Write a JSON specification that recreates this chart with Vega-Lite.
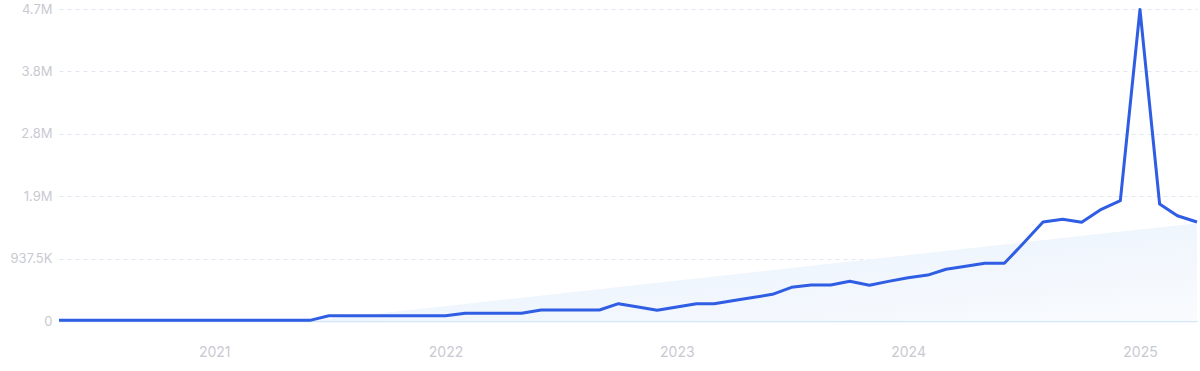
{
  "$schema": "https://vega.github.io/schema/vega-lite/v6.json",
  "width": 1138,
  "height": 312,
  "autosize": "none",
  "padding": {"left": 59, "top": 9, "right": 3, "bottom": 50},
  "background": "white",
  "config": {
    "view": {"stroke": null},
    "axis": {"labelFont": "Inter", "labelFontSize": 13, "labelColor": "#c9c9d1", "titleFont": "Inter"}
  },
  "datasets": {
    "series": [
      {"date": "2020-05-01", "value": 10000},
      {"date": "2020-06-01", "value": 10000},
      {"date": "2020-07-01", "value": 10000},
      {"date": "2020-08-01", "value": 10000},
      {"date": "2020-09-01", "value": 10000},
      {"date": "2020-10-01", "value": 10000},
      {"date": "2020-11-01", "value": 10000},
      {"date": "2020-12-01", "value": 10000},
      {"date": "2021-01-01", "value": 10000},
      {"date": "2021-02-01", "value": 10000},
      {"date": "2021-03-01", "value": 10000},
      {"date": "2021-04-01", "value": 10000},
      {"date": "2021-05-01", "value": 10000},
      {"date": "2021-06-01", "value": 10000},
      {"date": "2021-07-01", "value": 80000},
      {"date": "2021-08-01", "value": 80000},
      {"date": "2021-09-01", "value": 80000},
      {"date": "2021-10-01", "value": 80000},
      {"date": "2021-11-01", "value": 80000},
      {"date": "2021-12-01", "value": 80000},
      {"date": "2022-01-01", "value": 80000},
      {"date": "2022-02-01", "value": 118000},
      {"date": "2022-03-01", "value": 118000},
      {"date": "2022-04-01", "value": 118000},
      {"date": "2022-05-01", "value": 117000},
      {"date": "2022-06-01", "value": 165000},
      {"date": "2022-07-01", "value": 165000},
      {"date": "2022-08-01", "value": 165000},
      {"date": "2022-09-01", "value": 165000},
      {"date": "2022-10-01", "value": 260000},
      {"date": "2022-11-01", "value": 210000},
      {"date": "2022-12-01", "value": 160000},
      {"date": "2023-01-01", "value": 210000},
      {"date": "2023-02-01", "value": 260000},
      {"date": "2023-03-01", "value": 260000},
      {"date": "2023-04-01", "value": 308000},
      {"date": "2023-05-01", "value": 353000},
      {"date": "2023-06-01", "value": 401000},
      {"date": "2023-07-01", "value": 506000},
      {"date": "2023-08-01", "value": 541000},
      {"date": "2023-09-01", "value": 541000},
      {"date": "2023-10-01", "value": 596000},
      {"date": "2023-11-01", "value": 536000},
      {"date": "2023-12-01", "value": 595000},
      {"date": "2024-01-01", "value": 650000},
      {"date": "2024-02-01", "value": 690000},
      {"date": "2024-03-01", "value": 777000},
      {"date": "2024-04-01", "value": 822000},
      {"date": "2024-05-01", "value": 867000},
      {"date": "2024-06-01", "value": 867000},
      {"date": "2024-07-01", "value": 1167000},
      {"date": "2024-08-01", "value": 1487000},
      {"date": "2024-09-01", "value": 1528000},
      {"date": "2024-10-01", "value": 1483000},
      {"date": "2024-11-01", "value": 1678000},
      {"date": "2024-12-01", "value": 1807000},
      {"date": "2025-01-01", "value": 4680000},
      {"date": "2025-02-01", "value": 1758000},
      {"date": "2025-03-01", "value": 1582000},
      {"date": "2025-04-01", "value": 1487000}
    ],
    "trend": [
      {"date": "2021-06-01", "trend": 0},
      {"date": "2025-04-01", "trend": 1470000}
    ]
  },
  "layer": [
    {
      "data": {"name": "trend"},
      "mark": {
        "type": "area",
        "color": {
          "gradient": "linear",
          "x1": 0, "y1": 0, "x2": 1, "y2": 1,
          "stops": [
            {"offset": 0, "color": "#e6f0fc"},
            {"offset": 1, "color": "#f9fbfe"}
          ]
        }
      },
      "encoding": {
        "x": {
          "field": "date", "type": "temporal",
          "scale": {"type": "utc", "domain": [{"year": 2020, "month": 5, "date": 1, "utc": true}, {"year": 2025, "month": 4, "date": 1, "utc": true}]},
          "axis": {
            "title": null, "format": "%Y", "tickCount": {"interval": "year"},
            "ticks": false, "grid": false, "domain": true, "domainColor": "#d3e7fb", "domainWidth": 1.5,
            "labelPadding": 24, "labelFontSize": 14
          }
        },
        "y": {
          "field": "trend", "type": "quantitative",
          "scale": {"domain": [0, 4687500], "nice": false},
          "axis": {
            "title": null,
            "values": [0, 937500, 1875000, 2812500, 3750000, 4687500],
            "labelExpr": "datum.value == 0 ? '0' : (datum.value < 1000000 ? format(datum.value / 1000, '.1f') + 'K' : format(datum.value / 1000000, '.1f') + 'M')",
            "domain": false, "ticks": false, "labelPadding": 7,
            "grid": true, "gridColor": "#e2e8f2", "gridDash": [4, 4], "gridWidth": 1
          }
        }
      }
    },
    {
      "data": {"name": "series"},
      "mark": {"type": "line", "color": "#2f5de3", "strokeWidth": 3, "strokeJoin": "round"},
      "encoding": {
        "x": {"field": "date", "type": "temporal"},
        "y": {"field": "value", "type": "quantitative"}
      }
    }
  ]
}
